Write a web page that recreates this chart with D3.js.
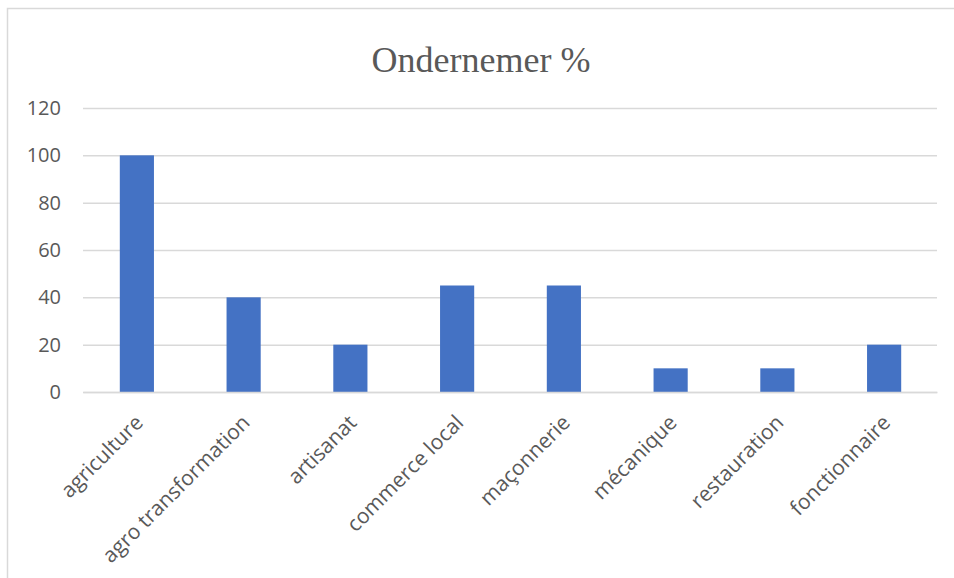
<!DOCTYPE html>
<html>
<head>
<meta charset="utf-8">
<script src="https://cdn.jsdelivr.net/npm/d3@7"></script>
<style>
  body { margin: 0; background: #fff; }
  svg { display: block; }
</style>
</head>
<body>
<div id="content"></div>
<script>
var width = 954;
var height = 578;

// data
var categories = ["agriculture", "agro transformation", "artisanat", "commerce local",
    "maçonnerie", "mécanique", "restauration", "fonctionnaire"];
var values = [100, 40, 20, 45, 45, 10, 10, 20];
var yTicks = [0, 20, 40, 60, 80, 100, 120];
var chartTitle = "Ondernemer %";

var margin = { top: 108, right: 17, bottom: 186, left: 83 };
var plotW = width - margin.left - margin.right;
var plotH = height - margin.top - margin.bottom;

var svg = d3.select("#content").append("svg")
    .attr("width", width)
    .attr("height", height);

// chart frame (cut off on the right and bottom like the screenshot)
svg.append("rect")
    .attr("x", 7.5)
    .attr("y", 8.5)
    .attr("width", width + 20)
    .attr("height", height + 20)
    .attr("fill", "none")
    .attr("stroke", "#d9d9d9")
    .attr("stroke-width", 1.5);

svg.append("text")
    .attr("x", 481)
    .attr("y", 72)
    .attr("text-anchor", "middle")
    .style("font-family", "'Liberation Serif', 'Times New Roman', serif")
    .style("font-size", "36px")
    .style("fill", "#595959")
    .text(chartTitle);

var g = svg.append("g")
    .attr("transform", `translate(${margin.left}, ${margin.top})`);

var xScale = d3.scaleBand()
    .domain(categories)
    .range([0, plotW])
    .padding(0);

var yScale = d3.scaleLinear()
    .domain([0, 120])
    .range([plotH, 0]);

// gridlines + y labels
var yAxis = d3.axisLeft(yScale)
    .tickValues(yTicks)
    .tickSize(-plotW)
    .tickPadding(22);

var yG = g.append("g").call(yAxis);
yG.select(".domain").remove();
yG.selectAll(".tick line")
    .attr("stroke", "#d9d9d9")
    .attr("stroke-width", 1.5);
yG.selectAll(".tick text")
    .style("font-family", "'Open Sans', sans-serif")
    .style("font-size", "20px")
    .style("fill", "#595959");

var barW = xScale.bandwidth() * 0.32;

g.selectAll(".bar")
    .data(values)
    .enter()
    .append("rect")
    .attr("class", "bar")
    .attr("x", (d, i) => xScale(categories[i]) + xScale.bandwidth() / 2 - barW / 2 + 0.5)
    .attr("y", d => yScale(d))
    .attr("width", barW)
    .attr("height", d => plotH - yScale(d))
    .attr("fill", "#4472c4");

// x axis line + rotated labels
var xAxis = d3.axisBottom(xScale).tickSize(0).tickPadding(0);
var xG = g.append("g")
    .attr("transform", `translate(0, ${plotH})`)
    .call(xAxis);
xG.select(".domain")
    .attr("stroke", "#d9d9d9")
    .attr("stroke-width", 1.5);
xG.selectAll(".tick text")
    .style("font-family", "'Open Sans', sans-serif")
    .style("font-size", "21px")
    .style("fill", "#595959")
    .attr("text-anchor", "end")
    .attr("dy", "0")
    .attr("transform", "translate(8, 32) rotate(-45)");
</script>
</body>
</html>
